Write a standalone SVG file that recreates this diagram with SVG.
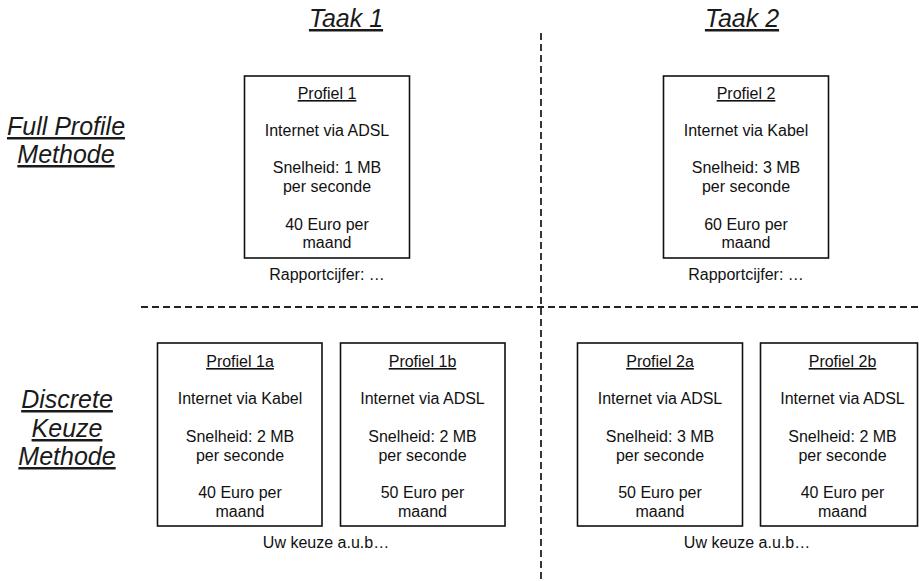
<svg xmlns="http://www.w3.org/2000/svg" width="919" height="581" viewBox="0 0 919 581">
<style>
text{font-family:"Liberation Sans",Arial,sans-serif;fill:#111;text-anchor:middle}
.t{font-size:16px}
.u{text-decoration:underline}
.h{font-size:25px;font-style:italic;text-decoration:underline;fill:#1a1a1a}
.box{fill:#fff;stroke:#111;stroke-width:1.6}
.dash{stroke:#222;stroke-width:1.8;stroke-dasharray:7 4;fill:none}
</style>
<rect width="919" height="581" fill="#fff"/>
<g id="connectors">
<line class="dash" x1="541" y1="33" x2="541" y2="581"/>
<line class="dash" x1="141" y1="307" x2="919" y2="307"/>
</g>
<g id="headers">
<text class="h" x="346" y="27">Taak 1</text>
<text class="h" x="742" y="27">Taak 2</text>
<text class="h" x="66" y="135">Full Profile</text>
<text class="h" x="66" y="163">Methode</text>
<text class="h" x="67" y="408">Discrete</text>
<text class="h" x="67" y="437">Keuze</text>
<text class="h" x="67" y="465">Methode</text>
</g>
<g id="profiel1">
<rect class="box" x="244.5" y="76" width="165" height="182"/>
<text class="t u" x="327" y="99">Profiel 1</text>
<text class="t" x="327" y="136">Internet via ADSL</text>
<text class="t" x="327" y="173">Snelheid: 1 MB</text>
<text class="t" x="327" y="192">per seconde</text>
<text class="t" x="327" y="230">40 Euro per</text>
<text class="t" x="327" y="248">maand</text>
</g>
<text class="t" id="rapport1" x="327" y="280">Rapportcijfer: …</text>
<g id="profiel2">
<rect class="box" x="663.5" y="76" width="165" height="182"/>
<text class="t u" x="746" y="99">Profiel 2</text>
<text class="t" x="746" y="136">Internet via Kabel</text>
<text class="t" x="746" y="173">Snelheid: 3 MB</text>
<text class="t" x="746" y="192">per seconde</text>
<text class="t" x="746" y="230">60 Euro per</text>
<text class="t" x="746" y="248">maand</text>
</g>
<text class="t" id="rapport2" x="746" y="280">Rapportcijfer: …</text>
<g id="profiel1a">
<rect class="box" x="157.5" y="343" width="164.5" height="183"/>
<text class="t u" x="240" y="367">Profiel 1a</text>
<text class="t" x="240" y="404">Internet via Kabel</text>
<text class="t" x="240" y="442">Snelheid: 2 MB</text>
<text class="t" x="240" y="461">per seconde</text>
<text class="t" x="240" y="498">40 Euro per</text>
<text class="t" x="240" y="517">maand</text>
</g>
<g id="profiel1b">
<rect class="box" x="340.5" y="343" width="164.5" height="183"/>
<text class="t u" x="422.5" y="367">Profiel 1b</text>
<text class="t" x="422.5" y="404">Internet via ADSL</text>
<text class="t" x="422.5" y="442">Snelheid: 2 MB</text>
<text class="t" x="422.5" y="461">per seconde</text>
<text class="t" x="422.5" y="498">50 Euro per</text>
<text class="t" x="422.5" y="517">maand</text>
</g>
<text class="t" id="keuze1" x="326" y="548">Uw keuze a.u.b…</text>
<g id="profiel2a">
<rect class="box" x="577.5" y="343" width="165" height="183"/>
<text class="t u" x="660" y="367">Profiel 2a</text>
<text class="t" x="660" y="404">Internet via ADSL</text>
<text class="t" x="660" y="442">Snelheid: 3 MB</text>
<text class="t" x="660" y="461">per seconde</text>
<text class="t" x="660" y="498">50 Euro per</text>
<text class="t" x="660" y="517">maand</text>
</g>
<g id="profiel2b">
<rect class="box" x="760.5" y="343" width="157" height="183"/>
<text class="t u" x="842.5" y="367">Profiel 2b</text>
<text class="t" x="842.5" y="404">Internet via ADSL</text>
<text class="t" x="842.5" y="442">Snelheid: 2 MB</text>
<text class="t" x="842.5" y="461">per seconde</text>
<text class="t" x="842.5" y="498">40 Euro per</text>
<text class="t" x="842.5" y="517">maand</text>
</g>
<text class="t" id="keuze2" x="747" y="548">Uw keuze a.u.b…</text>
</svg>
